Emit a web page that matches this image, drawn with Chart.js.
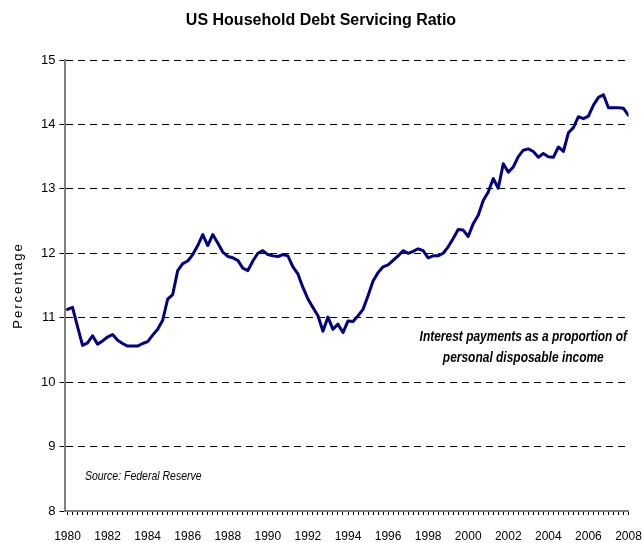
<!DOCTYPE html>
<html>
<head>
<meta charset="utf-8">
<script src="https://cdn.jsdelivr.net/npm/chart.js@4.4.0/dist/chart.umd.min.js"></script>
<style>
html,body{margin:0;padding:0;background:#fff;}
#wrap{width:642px;height:543px;}
</style>
</head>
<body>
<div id="wrap"><canvas id="c" width="642" height="543"></canvas></div>
<script>
// ---- data ----
const startYear = 1980;             // first quarter = 1980 Q1, quarterly to 2008 Q1
const ratio = [
  11.13, 11.16, 10.86, 10.57,   // 1980
  10.61, 10.72, 10.59, 10.64,   // 1981
  10.70, 10.74, 10.65, 10.60,   // 1982
  10.56, 10.56, 10.56, 10.60,   // 1983
  10.63, 10.73, 10.82, 10.96,   // 1984
  11.29, 11.36, 11.73, 11.84,   // 1985
  11.88, 11.98, 12.12, 12.29,   // 1986
  12.12, 12.29, 12.16, 12.02,   // 1987
  11.95, 11.93, 11.89, 11.77,   // 1988
  11.73, 11.88, 12.00, 12.04,   // 1989
  11.98, 11.96, 11.95, 11.98,   // 1990
  11.96, 11.79, 11.68, 11.47,   // 1991
  11.29, 11.16, 11.03, 10.79,   // 1992
  11.01, 10.82, 10.90, 10.77,   // 1993
  10.95, 10.94, 11.03, 11.13,   // 1994
  11.34, 11.57, 11.70, 11.79,   // 1995
  11.82, 11.89, 11.96, 12.04,   // 1996
  12.00, 12.03, 12.07, 12.04,   // 1997
  11.93, 11.96, 11.96, 12.00,   // 1998
  12.10, 12.23, 12.37, 12.36,   // 1999
  12.26, 12.46, 12.59, 12.82,   // 2000
  12.95, 13.16, 13.01, 13.39,   // 2001
  13.26, 13.34, 13.50, 13.60,   // 2002
  13.62, 13.58, 13.49, 13.55,   // 2003
  13.50, 13.49, 13.65, 13.58,   // 2004
  13.87, 13.95, 14.12, 14.09,   // 2005
  14.13, 14.30, 14.42, 14.46,   // 2006
  14.26, 14.26, 14.26, 14.25,   // 2007
  14.14                         // 2008 Q1
];
const xLabelYears = [1980,1982,1984,1986,1988,1990,1992,1994,1996,1998,2000,2002,2004,2006,2008];
const yTickValues = [8,9,10,11,12,13,14,15];
const titleText = 'US Household Debt Servicing Ratio';
const yTitleText = 'Percentage';
const noteLines = ['Interest payments as a proportion of', 'personal disposable income'];
const sourceText = 'Source: Federal Reserve';

const points = ratio.map((v, i) => ({ x: startYear + i / 4, y: v }));

const FONT = '"Liberation Sans", Arial, sans-serif';
const SQUEEZE = 0.82;   // emulate a narrow typeface for the free-standing notes

function squeezedText(ctx, text, x, y, align) {
  ctx.save();
  ctx.translate(x, y);
  ctx.scale(SQUEEZE, 1);
  ctx.textAlign = align;
  ctx.fillText(text, 0, 0);
  ctx.restore();
}

const notesPlugin = {
  id: 'notes',
  beforeDraw(chart) {
    const s = chart.scales.y;
    if (s && !s._lsPatched) {
      const orig = s.drawTitle.bind(s);
      s.drawTitle = function () {
        const ctx = this.ctx;
        ctx.save();
        try { ctx.letterSpacing = '2px'; } catch (e) {}
        orig();
        ctx.restore();
      };
      s._lsPatched = true;
    }
  },
  afterDraw(chart) {
    const { ctx, scales: { x, y } } = chart;
    ctx.save();
    ctx.fillStyle = '#000';
    ctx.textBaseline = 'middle';
    ctx.font = 'italic bold 14.6px ' + FONT;
    const cx = x.getPixelForValue(2002.75);
    squeezedText(ctx, noteLines[0], cx, y.getPixelForValue(10.70), 'center');
    squeezedText(ctx, noteLines[1], cx, y.getPixelForValue(10.375), 'center');
    ctx.font = 'italic 12.8px ' + FONT;
    squeezedText(ctx, sourceText, x.getPixelForValue(1980.87), y.getPixelForValue(8.53), 'left');
    ctx.restore();
  }
};

new Chart(document.getElementById('c'), {
  type: 'line',
  data: {
    datasets: [{
      data: points,
      borderColor: '#000080',
      borderWidth: 3,
      pointRadius: 0,
      tension: 0,
      fill: false,
      borderJoinStyle: 'round',
      borderCapStyle: 'round'
    }]
  },
  options: {
    responsive: false,
    animation: false,
    devicePixelRatio: 1,
    layout: { padding: { left: 13.5, right: 13.5, top: 0, bottom: 0 } },
    plugins: {
      legend: { display: false },
      tooltip: { enabled: false },
      title: {
        display: true,
        text: titleText,
        color: '#000',
        font: { family: FONT, size: 16, weight: 'bold', lineHeight: 1.2 },
        padding: { top: 11.4, bottom: 29.4 }
      }
    },
    scales: {
      x: {
        type: 'linear',
        min: 1979.85,
        max: 2008,
        afterBuildTicks(scale) { scale.ticks = points.map(p => ({ value: p.x })); },
        afterFit(scale) { scale.height = 32; scale.paddingLeft = 0; scale.paddingRight = 0; },
        grid: {
          display: true,
          drawOnChartArea: false,
          drawTicks: true,
          tickLength: 4,
          color: '#000',
          lineWidth: 1
        },
        border: { display: true, color: '#808080', width: 2 },
        ticks: {
          autoSkip: false,
          maxRotation: 0,
          minRotation: 0,
          padding: 14.5,
          color: '#000',
          font: { family: FONT, size: 12 },
          callback(value) {
            const r = Math.round(value);
            return (Math.abs(value - r) < 1e-6 && xLabelYears.includes(r)) ? String(r) : '';
          }
        }
      },
      y: {
        min: 8,
        max: 15,
        afterFit(scale) { scale.width = 51; },
        afterBuildTicks(scale) { scale.ticks = yTickValues.map(v => ({ value: v })); },
        grid: {
          color: '#000',
          lineWidth: 1,
          tickLength: 5,
          tickColor: '#000',
          tickBorderDash: []
        },
        border: { display: true, color: '#808080', width: 2, dash: [7, 5] },
        ticks: {
          padding: 4,
          color: '#000',
          font: { family: FONT, size: 13 }
        },
        title: {
          display: true,
          text: yTitleText,
          color: '#000',
          font: { family: FONT, size: 13, lineHeight: 1.2 },
          padding: { top: -3.3, bottom: 0 }
        }
      }
    }
  },
  plugins: [notesPlugin]
});
</script>
</body>
</html>
